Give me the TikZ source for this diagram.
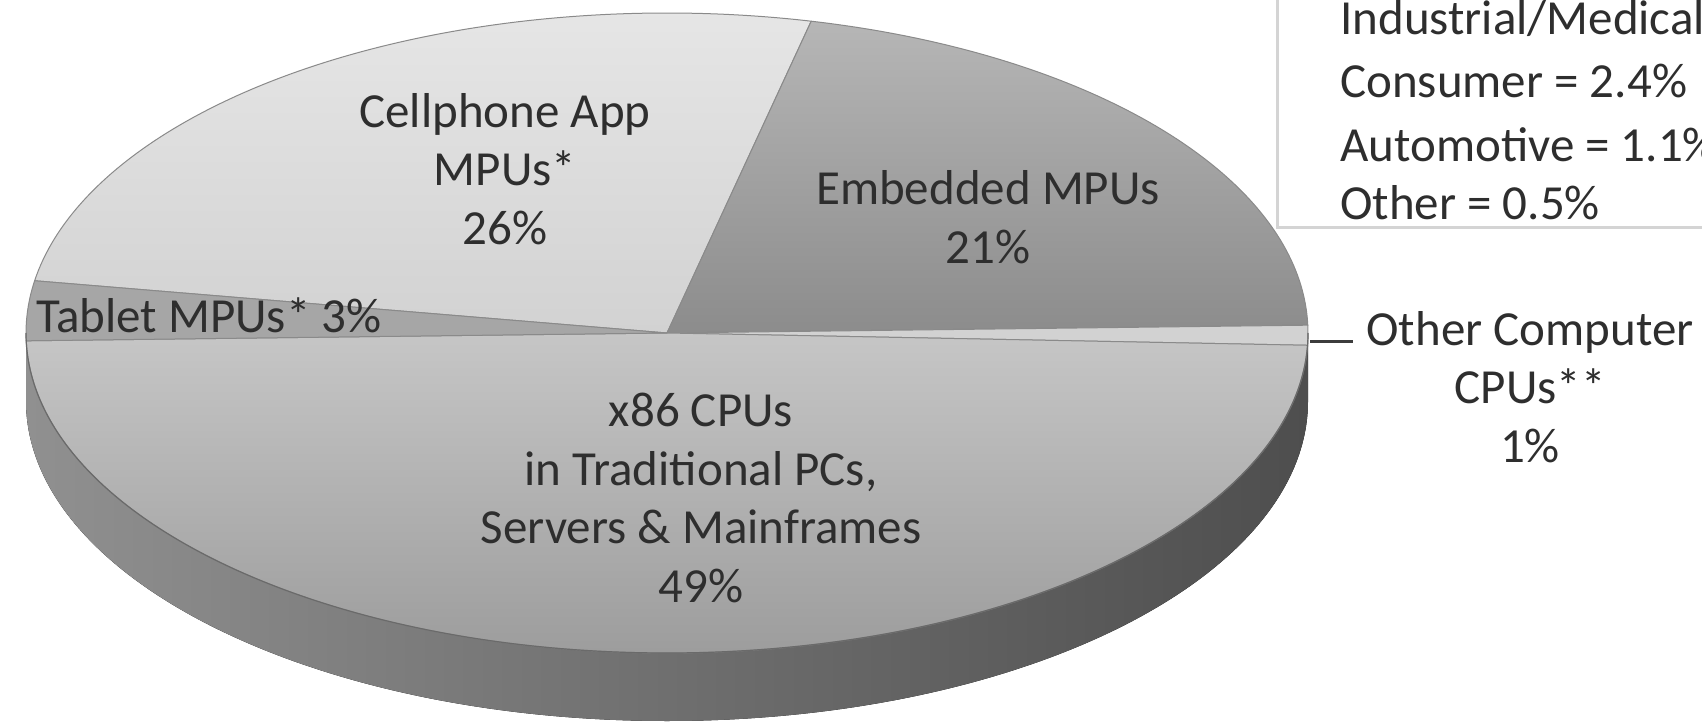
\documentclass[tikz,border=0pt]{standalone}
\usepackage{fontspec}
\setmainfont{Carlito}
\definecolor{cellT}{HTML}{E6E6E6}
\definecolor{cellB}{HTML}{D2D2D2}
\definecolor{embT}{HTML}{B6B6B6}
\definecolor{embB}{HTML}{8C8C8C}
\definecolor{othC}{HTML}{D2D2D2}
\definecolor{xT}{HTML}{C6C6C6}
\definecolor{xB}{HTML}{9C9C9C}
\definecolor{tabC}{HTML}{A6A6A6}
\definecolor{sideL}{HTML}{909090}
\definecolor{sideM}{HTML}{5C5C5C}
\definecolor{sideR}{HTML}{4E4E4E}
\definecolor{edgeC}{HTML}{8A8A8A}
\definecolor{rimC}{HTML}{6A6A6A}
\definecolor{txtC}{HTML}{2E2E2E}
\definecolor{boxC}{HTML}{D4D4D4}
\definecolor{leadC}{HTML}{3C3C3C}
\begin{document}
\begin{tikzpicture}[x=1pt,y=1pt,
  wedge/.style={draw=edgeC, line width=1pt, line join=round},
  lbl/.style={font=\fontsize{49}{58.5}\selectfont, align=center, inner sep=0pt, text=txtC},
  leg/.style={font=\fontsize{49}{58.5}\selectfont, anchor=base west, inner sep=0pt, text=txtC},
  rim/.style={draw=rimC, line width=1.2pt},
  leader/.style={draw=leadC, line width=3pt},
  legbox/.style={draw=boxC, line width=3pt}]
\useasboundingbox (0,0) rectangle (1702,721);
\clip (0,0) rectangle (1702,721);
\coordinate (c) at (667,388);
% side of the pie
\fill[left color=sideL, middle color=sideM, right color=sideR]
  (26,388) arc[start angle=180, end angle=360, x radius=641, y radius=320]
  -- (1308,320) arc[start angle=0, end angle=-180, x radius=641, y radius=320] -- cycle;
% top face slices
\path[wedge, top color=cellT, bottom color=cellB]
  (c) -- ++(170.6:641 and 320) arc[start angle=170.6, end angle=77, x radius=641, y radius=320] -- cycle;
\path[wedge, top color=embT, bottom color=embB]
  (c) -- ++(77:641 and 320) arc[start angle=77, end angle=1.4, x radius=641, y radius=320] -- cycle;
\path[wedge, fill=othC]
  (c) -- ++(1.4:641 and 320) arc[start angle=1.4, end angle=-2.2, x radius=641, y radius=320] -- cycle;
\path[wedge, top color=xT, bottom color=xB]
  (c) -- ++(-2.2:641 and 320) arc[start angle=-2.2, end angle=-178.6, x radius=641, y radius=320] -- cycle;
\path[wedge, fill=tabC]
  (c) -- ++(-178.6:641 and 320) arc[start angle=-178.6, end angle=-189.4, x radius=641, y radius=320] -- cycle;
\draw[rim] (26,388) arc[start angle=180, end angle=360, x radius=641, y radius=320];
% legend frame
\draw[legbox] (1277,730) -- (1277,493) -- (1712,493);
% labels
\node[lbl] (cell) at (505,552) {Cellphone App\\MPUs*\\26\%};
\node[lbl] (emb) at (988,504) {Embedded MPUs\\21\%};
\node[lbl] (x86) at (701,223) {x86 CPUs\\in Traditional PCs,\\Servers \& Mainframes\\49\%};
\node[leg] (tab) at (36,388) {Tablet MPUs* 3\%};
\node[lbl] (ocpu) at (1530,334) {Other Computer\\CPUs**\\1\%};
\coordinate (ldA) at (1310,379);
\draw[leader, shorten >=13pt] (ldA) -- (ldA -| ocpu.west);
% legend text
\node[leg] (l1) at (1340,686) {Industrial/Medical};
\node[leg] (l2) at (1340,623) {Consumer = 2.4\%};
\node[leg] (l3) at (1340,559) {Automotive = 1.1\%};
\node[leg] (l4) at (1340,501) {Other = 0.5\%};
\end{tikzpicture}
\end{document}
